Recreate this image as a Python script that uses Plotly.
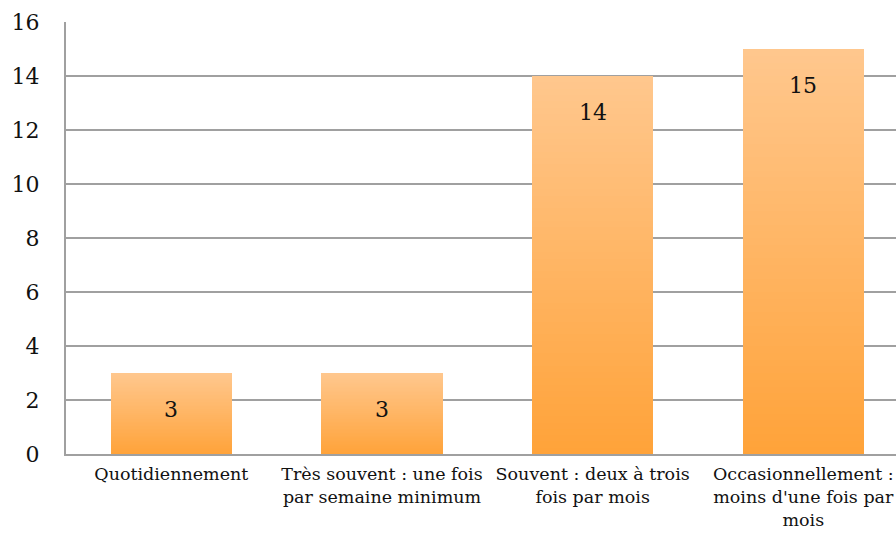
import plotly.graph_objects as go

categories = [
    "Quotidiennement",
    "Très souvent : une fois<br>par semaine minimum",
    "Souvent : deux à trois<br>fois par mois",
    "Occasionnellement :<br>moins d'une fois par<br>mois",
]
values = [3, 3, 14, 15]
y_ticks = [0, 2, 4, 6, 8, 10, 12, 14, 16]

FONT = "DejaVu Serif"
top_rgb = (255, 199, 141)
bot_rgb = (255, 163, 58)
N = 60

fig = go.Figure()
for i in range(N):
    t = i / (N - 1)
    c = tuple(round(b + (tp - b) * t) for b, tp in zip(bot_rgb, top_rgb))
    fig.add_trace(go.Bar(
        x=categories,
        y=[v / N for v in values],
        marker=dict(color=f"rgb{c}", line=dict(width=0)),
        width=0.575,
        hoverinfo="skip",
        showlegend=False,
    ))

for cat, v in zip(categories, values):
    fig.add_annotation(x=cat, y=v, text=str(v), showarrow=False,
                       yanchor="middle", yshift=-36,
                       font=dict(family=FONT, size=22, color="#111"))

fig.update_layout(
    width=896, height=540,
    margin=dict(l=66, r=0, t=22, b=86),
    barmode="stack",
    bargap=0,
    plot_bgcolor="white", paper_bgcolor="white",
    font=dict(family=FONT, color="#111"),
)
fig.update_xaxes(
    range=[-0.5, 3.44],
    showline=True, linecolor="#A0A0A0", linewidth=2,
    showgrid=False, ticks="", ticklabelstandoff=3,
    tickfont=dict(family=FONT, size=17.5),
)
fig.update_yaxes(
    range=[0, 16], tickvals=y_ticks,
    showline=True, linecolor="#A0A0A0", linewidth=2,
    showgrid=True, gridcolor="#A0A0A0", gridwidth=1.5,
    zeroline=False, ticks="", ticklabelstandoff=20,
    tickfont=dict(family=FONT, size=22),
)
fig.write_html(
    "out.html",
    config={"displayModeBar": False},
    post_script="document.body.style.margin='0';document.body.style.overflow='hidden';",
)
